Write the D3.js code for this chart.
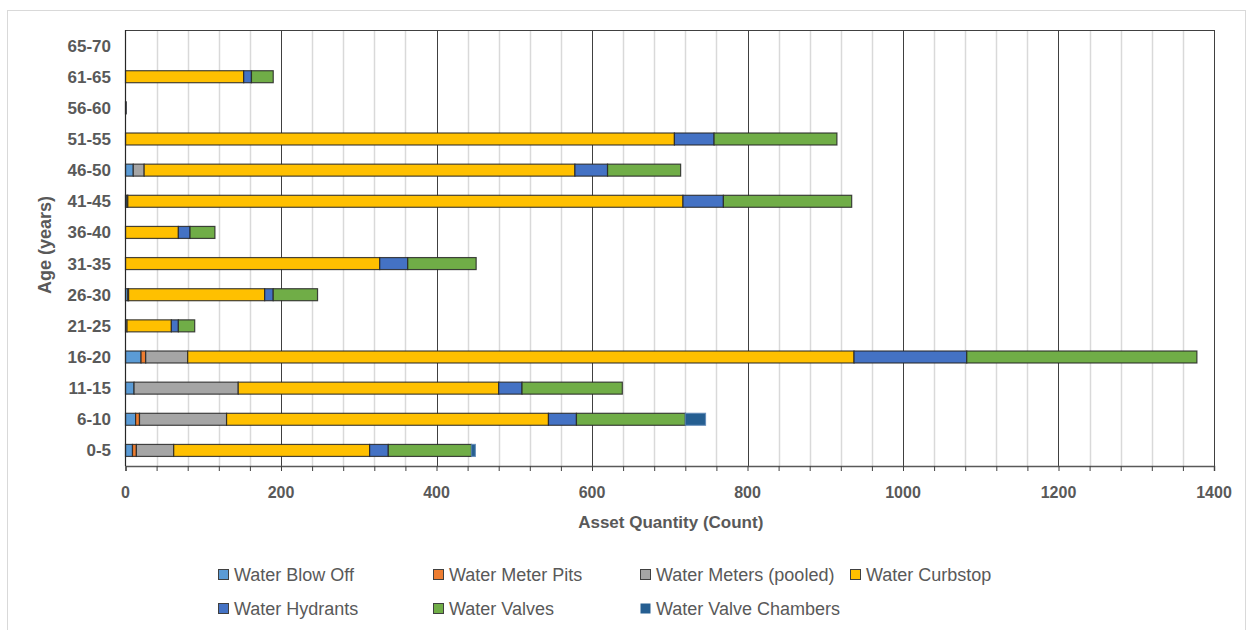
<!DOCTYPE html>
<html>
<head>
<meta charset="utf-8">
<script src="https://cdn.jsdelivr.net/npm/d3@7"></script>
<style>
  html, body { margin: 0; padding: 0; background: #fff; }
  svg { display: block; }
  text { font-family: "Liberation Sans", Arial, sans-serif; }
</style>
</head>
<body>
<svg id="chart" width="1254" height="630"></svg>
<script>
// Age bands (bottom to top) and asset counts per band
const categories = ["0-5","6-10","11-15","16-20","21-25","26-30","31-35","36-40","41-45","46-50","51-55","56-60","61-65","65-70"];
const blowOff    = [9, 13, 11, 20, 0, 3, 0, 0, 2, 10, 0, 0, 0, 0];
const meterPits  = [5, 5, 0, 6, 0, 1, 0, 0, 1, 0, 0, 0, 0, 0];
const meters     = [48, 112, 134, 54, 2, 0, 0, 0, 0, 14, 0, 0, 0, 0];
const curbstop   = [252, 414, 335, 857, 57, 175, 327, 68, 714, 554, 706, 0, 152, 0];
const hydrants   = [24, 36, 30, 145, 9, 11, 36, 15, 52, 42, 51, 1, 10, 0];
const valves     = [107, 140, 129, 296, 21, 57, 88, 32, 165, 94, 158, 0, 28, 0];
const chambers   = [5, 26, 0, 0, 0, 0, 0, 0, 0, 0, 0, 0, 0, 0];

const seriesNames  = ["Water Blow Off","Water Meter Pits","Water Meters (pooled)","Water Curbstop","Water Hydrants","Water Valves","Water Valve Chambers"];
const seriesValues = [blowOff, meterPits, meters, curbstop, hydrants, valves, chambers];
const seriesColors = ["#5B9BD5","#ED7D31","#A5A5A5","#FFC000","#4472C4","#70AD47","#255E91"];
const xTicks = [0, 200, 400, 600, 800, 1000, 1200, 1400];

const svg = d3.select("#chart");
const margin = { left: 125.5, right: 1214, top: 30, bottom: 466 };

// outer chart frame
svg.append("rect")
  .attr("x", 7.5).attr("y", 10.5).attr("width", 1238).attr("height", 630)
  .attr("fill", "#fff").attr("stroke", "#d9d9d9").attr("stroke-width", 1);

const x = d3.scaleLinear().domain([0, 1400]).range([margin.left, margin.right]);
const y = d3.scaleBand().domain(categories)
  .range([margin.bottom, margin.top])
  .paddingInner(0.615).paddingOuter(0.3075);

// minor gridlines every 40
const minor = d3.range(40, 1400, 40).filter(v => v % 200 !== 0);
svg.append("g").selectAll("line").data(minor).join("line")
  .attr("x1", d => Math.round(x(d)) + 0.5).attr("x2", d => Math.round(x(d)) + 0.5)
  .attr("y1", margin.top).attr("y2", margin.bottom)
  .attr("stroke", "#d9d9d9").attr("stroke-width", 1.5);

// major gridlines every 200
svg.append("g").selectAll("line").data(xTicks.slice(1)).join("line")
  .attr("x1", d => Math.round(x(d)) + 0.5).attr("x2", d => Math.round(x(d)) + 0.5)
  .attr("y1", margin.top).attr("y2", margin.bottom)
  .attr("stroke", "#404040").attr("stroke-width", 1);

// plot area top border
svg.append("line")
  .attr("x1", margin.left).attr("x2", margin.right)
  .attr("y1", margin.top + 0.5).attr("y2", margin.top + 0.5)
  .attr("stroke", "#404040").attr("stroke-width", 1);

// stacked bars
const rows = categories.map((c, i) => {
  const o = { cat: c };
  seriesNames.forEach((n, k) => { o[n] = seriesValues[k][i]; });
  return o;
});
const stacked = d3.stack().keys(seriesNames)(rows);

stacked.forEach((layer, k) => {
  svg.append("g")
    .selectAll("rect")
    .data(layer.filter(d => d[1] - d[0] > 0))
    .join("rect")
    .attr("x", d => x(d[0]))
    .attr("y", d => y(d.data.cat))
    .attr("width", d => x(d[1]) - x(d[0]))
    .attr("height", y.bandwidth())
    .attr("fill", seriesColors[k])
    .attr("stroke", k === 6 ? "#5b86b5" : "#262626")
    .attr("stroke-opacity", k === 6 ? 0.8 : 0.85)
    .attr("stroke-width", 1.2);
});

// x axis
const xAxis = d3.axisBottom(x).tickValues(d3.range(0, 1401, 40)).tickSize(5).tickFormat("");
const gx = svg.append("g").attr("transform", `translate(0,${margin.bottom})`).call(xAxis);
gx.select(".domain").attr("stroke", "#595959").attr("stroke-width", 1.5);
gx.selectAll(".tick line").attr("stroke", "#404040");

svg.append("g").selectAll("text").data(xTicks).join("text")
  .attr("x", d => x(d)).attr("y", 498)
  .attr("text-anchor", "middle")
  .attr("font-size", 16).attr("font-weight", "bold").attr("fill", "#595959")
  .text(d => d);

// y axis
svg.append("line")
  .attr("x1", margin.left).attr("x2", margin.left)
  .attr("y1", margin.top).attr("y2", margin.bottom)
  .attr("stroke", "#262626").attr("stroke-width", 1.2);

svg.append("g").selectAll("text").data(categories).join("text")
  .attr("x", 111).attr("y", d => y(d) + y.bandwidth() / 2 + 6)
  .attr("text-anchor", "end")
  .attr("font-size", 17).attr("font-weight", "bold").attr("fill", "#595959")
  .text(d => d);

// axis titles
svg.append("text")
  .attr("x", (margin.left + margin.right) / 2 + 1).attr("y", 528)
  .attr("text-anchor", "middle")
  .attr("font-size", 17).attr("font-weight", "bold").attr("fill", "#595959")
  .text("Asset Quantity (Count)");

svg.append("text")
  .attr("transform", `translate(51,${(margin.top + margin.bottom) / 2 - 3}) rotate(-90)`)
  .attr("text-anchor", "middle")
  .attr("font-size", 18).attr("font-weight", "bold").attr("fill", "#595959")
  .text("Age (years)");

// legend
const legendPos = [[218, 575], [433, 575], [640, 575], [850, 575], [218, 609], [433, 609], [640, 609]];
const lg = svg.append("g").selectAll("g").data(seriesNames).join("g")
  .attr("transform", (d, i) => `translate(${legendPos[i][0]},${legendPos[i][1]})`);
lg.append("rect")
  .attr("x", 0.5).attr("y", -5.5).attr("width", 10).attr("height", 10)
  .attr("fill", (d, i) => seriesColors[i])
  .attr("stroke", (d, i) => i === 6 ? "none" : "#404040").attr("stroke-width", 1);
lg.append("text")
  .attr("x", 16).attr("y", 6)
  .attr("font-size", 18).attr("fill", "#595959")
  .text(d => d);
</script>
</body>
</html>
